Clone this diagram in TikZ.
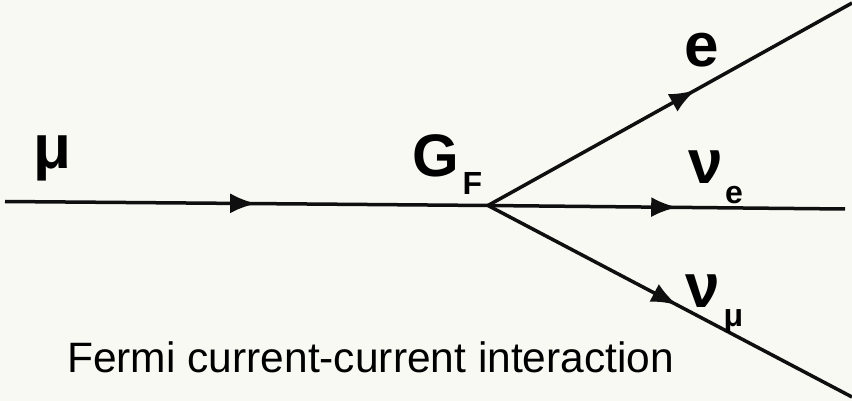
\documentclass[tikz,border=0pt]{standalone}
\usepackage{fontspec}
\setmainfont{Liberation Sans}
\usetikzlibrary{arrows.meta,decorations.markings}
\definecolor{paper}{RGB}{249,249,243}
\definecolor{ink}{RGB}{15,15,15}
\tikzset{
  fermion/.style={draw=ink, line width=3.5pt,
    postaction={decorate, decoration={markings,
      mark=at position #1 with {\arrow{Latex[length=26pt,width=20pt]}}}}},
  biglabel/.style={inner sep=0pt, anchor=base, font=\fontsize{62}{62}\selectfont\bfseries},
  sublabel/.style={inner sep=0pt, anchor=base, font=\fontsize{32}{32}\selectfont\bfseries},
  caption/.style={inner sep=0pt, anchor=base west, font=\fontsize{42.5}{42.5}\selectfont}
}
\begin{document}
\begin{tikzpicture}[x=1pt,y=-1pt]
  \fill[paper] (0,0) rectangle (852,401);
  \useasboundingbox (0,0) rectangle (852,401);

  % vertex and the free ends of the four lines
  \coordinate (V) at (488,205.5);
  \coordinate (L) at (5,201.5);
  \coordinate (R) at (845,209);
  \coordinate (U) at (852,3);
  \coordinate (D) at (852,397);

  \draw[fermion=0.52] (L) -- (V);
  \draw[fermion=0.53] (V) -- (R);
  \draw[fermion=0.57] (V) -- (U);
  \draw[fermion=0.52] (V) -- (D);

  % particle labels
  \node[biglabel] (mu) at (52,168) {μ};
  \node[biglabel, font=\fontsize{60}{60}\selectfont\bfseries] (G) at (435.5,177) {G};
  \node[sublabel] (F) at (472.5,195) {F};
  \node[biglabel] (e) at (701.5,67) {e};
  \node[biglabel] (nue) at (706,183) {ν};
  \node[sublabel] (nuesub) at (734,204) {e};
  \node[biglabel] (numu) at (702.5,307) {ν};
  \node[sublabel] (numusub) at (733.5,326) {μ};

  \node[caption] (cap) at (67,372) {Fermi current-current interaction};
\end{tikzpicture}
\end{document}
